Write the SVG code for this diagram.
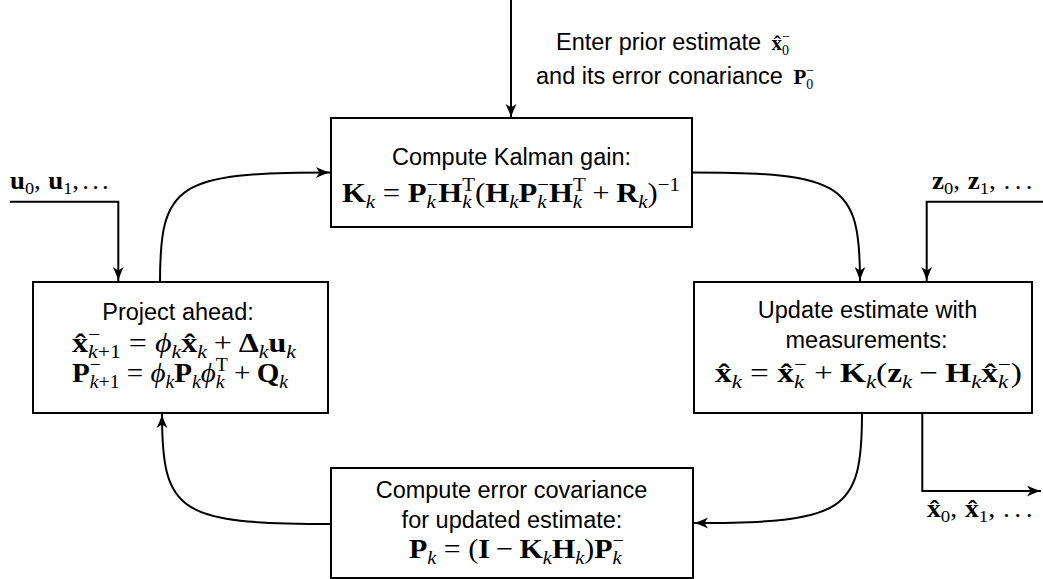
<svg xmlns="http://www.w3.org/2000/svg" width="1043" height="579" viewBox="0 0 1043 579">
  <style>
    .box { fill: #fff; stroke: #000; stroke-width: 2; }
    .wire { fill: none; stroke: #000; stroke-width: 2; marker-end: url(#ah); }
    .t { font-family: "Liberation Sans", Arial, sans-serif; font-size: 23.5px; fill: #000; }
    .m { font-family: "Liberation Serif", "Times New Roman", "DejaVu Serif", serif; font-size: 28px; fill: #000; }
    .ml { font-family: "Liberation Serif", "Times New Roman", "DejaVu Serif", serif; font-size: 25px; fill: #000; }
    .mt { font-family: "Liberation Serif", "Times New Roman", "DejaVu Serif", serif; font-size: 21px; fill: #000; }
    .b { font-weight: bold; }
    .i { font-style: italic; }
    .s { font-size: 19px; font-weight: normal; }
    .s2 { font-size: 17px; font-weight: normal; }
    .s3 { font-size: 14px; font-weight: normal; }
  </style>
  <defs>
    <marker id="ah" viewBox="0 0 16 12" markerWidth="16" markerHeight="12" refX="15" refY="6" orient="auto" markerUnits="userSpaceOnUse">
      <path d="M15,6 C11,5 6,3 1,0.6 L4.5,6 L1,11.4 C6,9 11,7 15,6 Z" fill="#000"/>
    </marker>
  </defs>

  <!-- connectors -->
  <g id="connectors">
    <path class="wire" d="M511,0 L511,118"/>
    <path class="wire" d="M10,201.7 L118.3,201.7 L118.3,281"/>
    <path class="wire" d="M1043,201.7 L926.7,201.7 L926.7,281"/>
    <path class="wire" d="M922.3,413 L922.3,491 L1041,491"/>
    <!-- loop: predict -> gain -> update -> covariance -> predict -->
    <path class="wire" d="M160,282 C160,183.5 177,172.5 330,172.5"/>
    <path class="wire" d="M692,172.5 C843,172.5 860,183.5 860,281"/>
    <path class="wire" d="M862,413 C862,512 845,523 694,523"/>
    <path class="wire" d="M331,524 C179,524 162,513 162,414"/>
  </g>

  <!-- initial conditions -->
  <g id="init-label">
    <text class="t" x="556" y="50">Enter prior estimate <tspan class="mt b" dx="4">x̂</tspan><tspan class="mt s3" dy="5">0</tspan><tspan class="mt s3" dx="-7" dy="-14">−</tspan></text>
    <text class="t" x="536" y="84">and its error conariance <tspan class="mt b" dx="4" dy="0">P</tspan><tspan class="mt s3" dy="5">0</tspan><tspan class="mt s3" dx="-7" dy="-14">−</tspan></text>
  </g>

  <g id="gain">
    <rect class="box" x="331" y="118" width="361" height="109"/>
    <text class="t" x="511.5" y="165" text-anchor="middle">Compute Kalman gain:</text>
    <text class="m" x="511" y="202" text-anchor="middle" textLength="338" lengthAdjust="spacingAndGlyphs"><tspan class="b">K</tspan><tspan class="s i" dy="6">k</tspan><tspan dx="7" dy="-6">=</tspan><tspan class="b" dx="7">P</tspan><tspan class="s i" dy="6">k</tspan><tspan class="s" dx="-8.4" dy="-17">−</tspan><tspan class="b" dy="11">H</tspan><tspan class="s i" dy="6">k</tspan><tspan class="s" dx="-8.4" dy="-17">T</tspan><tspan dy="11">(</tspan><tspan class="b">H</tspan><tspan class="s i" dy="6">k</tspan><tspan class="b" dy="-6">P</tspan><tspan class="s i" dy="6">k</tspan><tspan class="s" dx="-8.4" dy="-17">−</tspan><tspan class="b" dy="11">H</tspan><tspan class="s i" dy="6">k</tspan><tspan class="s" dx="-8.4" dy="-17">T</tspan><tspan dx="6" dy="11">+</tspan><tspan class="b" dx="6">R</tspan><tspan class="s i" dy="6">k</tspan><tspan dy="-6">)</tspan><tspan class="s" dy="-11">−1</tspan></text>
  </g>

  <g id="project">
    <rect class="box" x="33" y="282" width="295" height="131"/>
    <text class="t" x="178" y="320" text-anchor="middle">Project ahead:</text>
    <text class="m" x="184" y="352" text-anchor="middle" textLength="224" lengthAdjust="spacingAndGlyphs"><tspan class="b">x̂</tspan><tspan class="s" dy="-11">−</tspan><tspan class="s i" dx="-10.7" dy="17">k</tspan><tspan class="s">+1</tspan><tspan dx="7" dy="-6">=</tspan><tspan class="i" dx="7">ϕ</tspan><tspan class="s i" dy="6">k</tspan><tspan class="b" dy="-6">x̂</tspan><tspan class="s i" dy="6">k</tspan><tspan dx="6" dy="-6">+</tspan><tspan class="b" dx="6">Δ</tspan><tspan class="s i" dy="6">k</tspan><tspan class="b" dy="-6">u</tspan><tspan class="s i" dy="6">k</tspan></text>
    <text class="m" x="180" y="382" text-anchor="middle" textLength="216" lengthAdjust="spacingAndGlyphs"><tspan class="b">P</tspan><tspan class="s" dy="-11">−</tspan><tspan class="s i" dx="-10.7" dy="17">k</tspan><tspan class="s">+1</tspan><tspan dx="7" dy="-6">=</tspan><tspan class="i" dx="7">ϕ</tspan><tspan class="s i" dy="6">k</tspan><tspan class="b" dy="-6">P</tspan><tspan class="s i" dy="6">k</tspan><tspan class="i" dy="-6">ϕ</tspan><tspan class="s i" dy="6">k</tspan><tspan class="s" dx="-8.4" dy="-17">T</tspan><tspan dx="6" dy="11">+</tspan><tspan class="b" dx="6">Q</tspan><tspan class="s i" dy="6">k</tspan></text>
  </g>

  <g id="update">
    <rect class="box" x="694" y="282" width="338" height="131"/>
    <text class="t" x="867.5" y="318" text-anchor="middle">Update estimate with</text>
    <text class="t" x="866.5" y="348" text-anchor="middle">measurements:</text>
    <text class="m" x="868.5" y="382" text-anchor="middle" textLength="307" lengthAdjust="spacingAndGlyphs"><tspan class="b">x̂</tspan><tspan class="s i" dy="6">k</tspan><tspan dx="7" dy="-6">=</tspan><tspan class="b" dx="7">x̂</tspan><tspan class="s i" dy="6">k</tspan><tspan class="s" dx="-8.4" dy="-17">−</tspan><tspan dx="6" dy="11">+</tspan><tspan class="b" dx="6">K</tspan><tspan class="s i" dy="6">k</tspan><tspan dy="-6">(</tspan><tspan class="b">z</tspan><tspan class="s i" dy="6">k</tspan><tspan dx="6" dy="-6">−</tspan><tspan class="b" dx="6">H</tspan><tspan class="s i" dy="6">k</tspan><tspan class="b" dy="-6">x̂</tspan><tspan class="s i" dy="6">k</tspan><tspan class="s" dx="-8.4" dy="-17">−</tspan><tspan dy="11">)</tspan></text>
  </g>

  <g id="covariance">
    <rect class="box" x="331" y="468" width="362" height="110"/>
    <text class="t" x="511.5" y="498" text-anchor="middle">Compute error covariance</text>
    <text class="t" x="512" y="528" text-anchor="middle">for updated estimate:</text>
    <text class="m" x="516.5" y="558" text-anchor="middle" textLength="215" lengthAdjust="spacingAndGlyphs"><tspan class="b">P</tspan><tspan class="s i" dy="6">k</tspan><tspan dx="7" dy="-6">=</tspan><tspan dx="7">(</tspan><tspan class="b">I</tspan><tspan dx="6">−</tspan><tspan class="b" dx="6">K</tspan><tspan class="s i" dy="6">k</tspan><tspan class="b" dy="-6">H</tspan><tspan class="s i" dy="6">k</tspan><tspan dy="-6">)</tspan><tspan class="b">P</tspan><tspan class="s i" dy="6">k</tspan><tspan class="s" dx="-8.4" dy="-17">−</tspan></text>
  </g>

  <!-- input / output sequences -->
  <g id="controls">
    <text class="ml" x="10" y="189" textLength="102" lengthAdjust="spacingAndGlyphs"><tspan class="b">u</tspan><tspan class="s2" dy="5">0</tspan><tspan dy="-5">,</tspan><tspan class="b" dx="7">u</tspan><tspan class="s2" dy="5">1</tspan><tspan dy="-5" letter-spacing="3">,...</tspan></text>
  </g>
  <g id="measurements">
    <text class="ml" x="932" y="189" textLength="105" lengthAdjust="spacingAndGlyphs"><tspan class="b">z</tspan><tspan class="s2" dy="5">0</tspan><tspan dy="-5">,</tspan><tspan class="b" dx="7">z</tspan><tspan class="s2" dy="5">1</tspan><tspan dy="-5">,</tspan><tspan dx="7" letter-spacing="4">...</tspan></text>
  </g>
  <g id="estimates">
    <text class="ml" x="927" y="517" textLength="110" lengthAdjust="spacingAndGlyphs"><tspan class="b">x̂</tspan><tspan class="s2" dy="5">0</tspan><tspan dy="-5">,</tspan><tspan class="b" dx="7">x̂</tspan><tspan class="s2" dy="5">1</tspan><tspan dy="-5">,</tspan><tspan dx="7" letter-spacing="4">...</tspan></text>
  </g>
</svg>
